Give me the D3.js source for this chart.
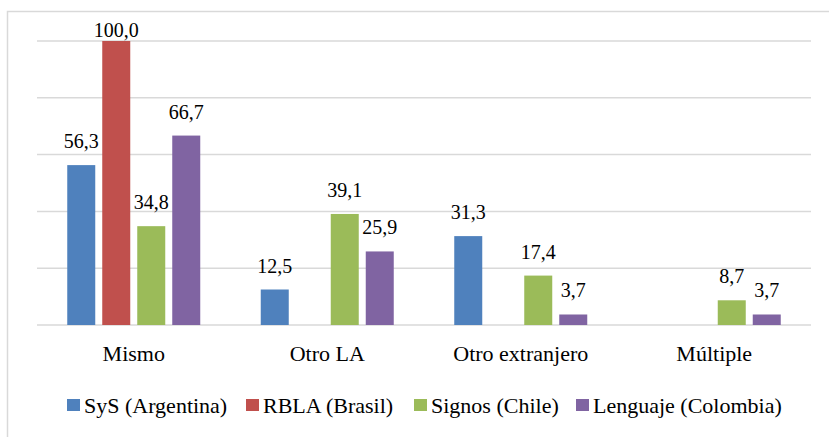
<!DOCTYPE html>
<html><head><meta charset="utf-8">
<script src="https://cdn.jsdelivr.net/npm/d3@7"></script>
</head>
<body style="margin:0">
<svg id="viz" width="829" height="437"></svg>
<script>
// data
const categories = ['Mismo', 'Otro LA', 'Otro extranjero', 'Múltiple'];
const seriesNames = ['SyS (Argentina)', 'RBLA (Brasil)', 'Signos (Chile)', 'Lenguaje (Colombia)'];
const seriesColors = ['#4f81bd', '#c0504d', '#9bbb59', '#8064a2'];
const sysValues = [56.3, 12.5, 31.3, 0];
const rblaValues = [100.0, 0, 0, 0];
const signosValues = [34.8, 39.1, 17.4, 8.7];
const lenguajeValues = [66.7, 25.9, 3.7, 3.7];
const yTicks = [0, 20, 40, 60, 80, 100];

const allValues = [sysValues, rblaValues, signosValues, lenguajeValues];

const width = 829, height = 437;
const margin = {top: 41, right: 18, bottom: 112, left: 37};
const innerW = width - margin.left - margin.right;
const innerH = height - margin.top - margin.bottom;

const svg = d3.select('#viz');

// outer frame (only left / top visible in the original)
svg.append('rect')
    .attr('x', 7.5).attr('y', 11.5)
    .attr('width', 900).attr('height', 600)
    .attr('fill', 'none')
    .attr('stroke', '#d9d9d9')
    .attr('stroke-width', 1.5);

const chart = svg.append('g')
    .attr('transform', `translate(${margin.left},${margin.top})`);

const x0 = d3.scaleBand()
    .domain(categories)
    .range([0, innerW]);

// 4 bars of ~28px with ~7px gaps, centred in each category
const x1 = d3.scaleBand()
    .domain(seriesNames)
    .range([x0.bandwidth() / 2 - 66.5, x0.bandwidth() / 2 + 66.5])
    .paddingInner(0.2);

const y = d3.scaleLinear()
    .domain([0, 100])
    .range([innerH, 0]);

// gridlines
chart.append('g')
    .selectAll('line')
    .data(yTicks)
    .join('line')
    .attr('x1', 0).attr('x2', innerW)
    .attr('y1', d => y(d)).attr('y2', d => y(d))
    .attr('stroke', '#d9d9d9')
    .attr('stroke-width', 1.5);

// bars
const rows = [];
categories.forEach((c, i) => {
    seriesNames.forEach((s, j) => {
        rows.push({cat: c, series: s, idx: j, value: allValues[j][i]});
    });
});

const groups = chart.selectAll('.group')
    .data(categories)
    .join('g')
    .attr('class', 'group')
    .attr('transform', d => `translate(${x0(d)},0)`);

groups.selectAll('rect')
    .data(c => rows.filter(r => r.cat === c && r.value > 0))
    .join('rect')
    .attr('x', d => x1(d.series))
    .attr('width', x1.bandwidth())
    .attr('y', d => y(d.value))
    .attr('height', d => innerH - y(d.value))
    .attr('fill', d => seriesColors[d.idx]);

groups.selectAll('text.val')
    .data(c => rows.filter(r => r.cat === c && r.value > 0))
    .join('text')
    .attr('class', 'val')
    .attr('x', d => x1(d.series) + x1.bandwidth() / 2)
    .attr('y', d => Math.max(y(d.value) - 17, -4))
    .attr('text-anchor', 'middle')
    .attr('font-family', 'Liberation Serif')
    .attr('font-size', 20)
    .text(d => d3.format('.1f')(d.value).replace('.', ','));

// x axis labels
const xAxis = d3.axisBottom(x0).tickSize(0).tickPadding(20);
const xAxisG = chart.append('g')
    .attr('transform', `translate(0,${innerH})`)
    .call(xAxis)
    .attr('font-family', null)
    .attr('font-size', null);
xAxisG.select('.domain').remove();
xAxisG.selectAll('text')
    .attr('font-family', 'Times New Roman')
    .attr('font-size', 22)
    .attr('fill', '#000');

// legend
const legend = svg.append('g')
    .attr('transform', 'translate(67,399)');
const legendX = [0, 179, 347, 509];
const items = legend.selectAll('g')
    .data(seriesNames)
    .join('g')
    .attr('transform', (d, i) => `translate(${legendX[i]},0)`);
items.append('rect')
    .attr('width', 13).attr('height', 12)
    .attr('fill', (d, i) => seriesColors[i]);
items.append('text')
    .attr('x', 17).attr('y', 14)
    .attr('font-family', 'serif')
    .attr('font-size', 22)
    .text(d => d);
</script>
</body></html>
